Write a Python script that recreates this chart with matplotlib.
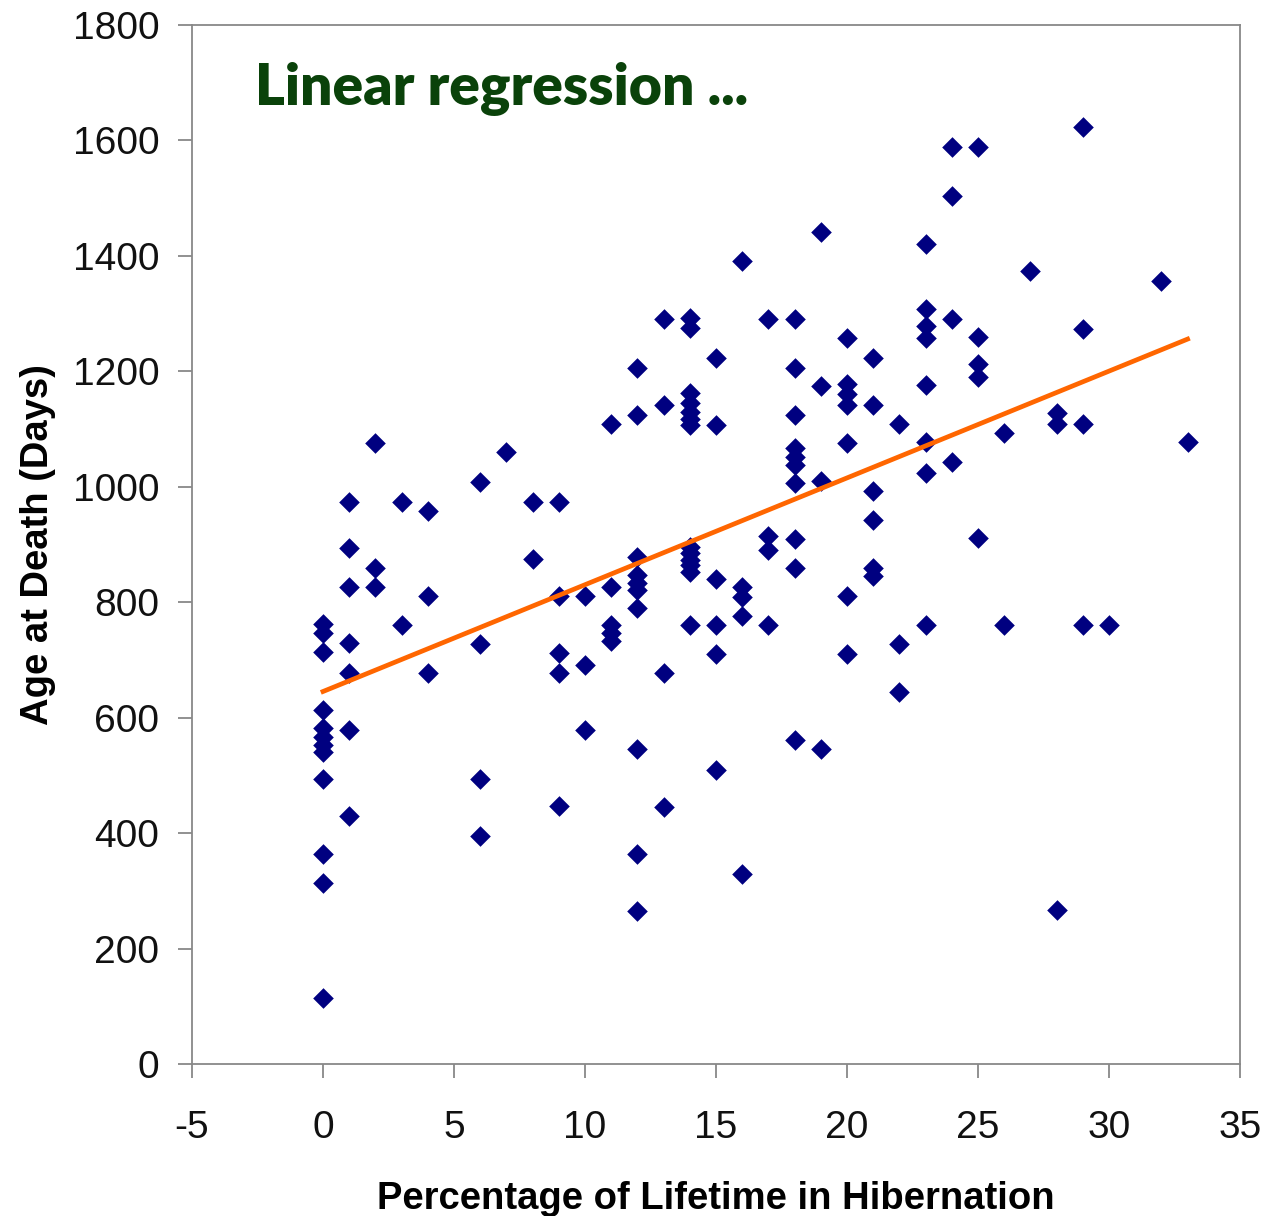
import matplotlib
matplotlib.use('Agg')
import matplotlib.pyplot as plt
import numpy as np

# hibernation share (%) and age at death (days), one entry per animal
pct = [0] * 12 + [1] * 7 + [2] * 3 + [3] * 2 + [4] * 3 + [6] * 4 + [7] + [8] * 2 \
    + [9] * 5 + [10] * 3 + [11] * 5 + [12] * 10 + [13] * 4 + [14] * 13 + [15] * 6 \
    + [16] * 5 + [17] * 4 + [18] * 10 + [19] * 4 + [20] * 7 + [21] * 6 + [22] * 3 \
    + [23] * 8 + [24] * 4 + [25] * 5 + [26] * 2 + [27] + [28] * 3 + [29] * 4 + [30] \
    + [32] + [33]

age = [762, 746, 714, 613, 582, 567, 553, 541, 494, 364, 313, 114,   # 0
       974, 894, 826, 729, 678, 579, 430,                              # 1
       1076, 860, 826,                                                 # 2
       974, 760,                                                       # 3
       958, 811, 677,                                                  # 4
       1009, 728, 494, 395,                                            # 6
       1060,                                                           # 7
       974, 875,                                                       # 8
       974, 811, 712, 677, 447,                                        # 9
       811, 692, 579,                                                  # 10
       1108, 827, 760, 746, 732,                                       # 11
       1206, 1124, 879, 847, 833, 821, 790, 546, 363, 265,             # 12
       1290, 1141, 677, 446,                                           # 13
       1292, 1275, 1162, 1145, 1130, 1118, 1107, 896, 885, 873, 865, 853, 760,  # 14
       1223, 1107, 841, 760, 711, 510,                                 # 15
       1391, 827, 809, 776, 330,                                       # 16
       1290, 914, 891, 760,                                            # 17
       1290, 1206, 1124, 1067, 1051, 1038, 1007, 909, 860, 562,        # 18
       1441, 1175, 1010, 546,                                          # 19
       1258, 1178, 1161, 1141, 1075, 811, 711,                         # 20
       1223, 1141, 993, 942, 860, 846,                                 # 21
       1109, 728, 645,                                                 # 22
       1421, 1308, 1279, 1257, 1177, 1078, 1024, 761,                  # 23
       1588, 1503, 1290, 1043,                                         # 24
       1588, 1259, 1212, 1191, 911,                                    # 25
       1093, 761,                                                      # 26
       1373,                                                           # 27
       1127, 1109, 266,                                                # 28
       1623, 1274, 1109, 761,                                          # 29
       761,                                                            # 30
       1357,                                                           # 32
       1077]                                                           # 33

xticks = list(range(-5, 36, 5))
yticks = list(range(0, 1801, 200))

pct = np.array(pct, dtype=float)
age = np.array(age, dtype=float)

# least squares fit, drawn across the observed range
slope, intercept = np.polyfit(pct, age, 1)
fit_x = np.array([pct.min(), pct.max()])
fit_y = intercept + slope * fit_x

fig = plt.figure(figsize=(12.67, 12.16), dpi=100)
ax = fig.add_axes([192 / 1267, 152 / 1216, 1048 / 1267, 1039 / 1216])

ax.scatter(pct, age, marker='D', s=10.5 ** 2, color='#000080', linewidths=0, zorder=3)
ax.plot(fit_x, fit_y, color='#ff6600', linewidth=3.4, zorder=4)

ax.set_xlim(-5, 35)
ax.set_ylim(0, 1800)
ax.set_xticks(xticks)
ax.set_yticks(yticks)

tick_font = {'family': 'Liberation Sans', 'size': 28}
ax.set_xticklabels([str(t) for t in xticks], fontdict=tick_font)
ax.set_yticklabels([str(t) for t in yticks], fontdict=tick_font)

for spine in ax.spines.values():
    spine.set_color('#888888')
    spine.set_linewidth(1.3)
ax.tick_params(axis='both', direction='out', length=10, width=1.3, color='#888888',
               labelcolor='#111111')
ax.tick_params(axis='x', pad=23)
ax.tick_params(axis='y', pad=13.5)

ax.set_xlabel('Percentage of Lifetime in Hibernation', family='Liberation Sans',
              weight='bold', size=27.5, labelpad=25)
ax.set_ylabel('Age at Death (Days)', family='Liberation Sans',
              weight='bold', size=27.5, labelpad=12)

ax.text(0.06, 0.923, 'Linear regression ...', transform=ax.transAxes,
        family='Lato', weight='heavy', size=41, color='#0a420a', va='baseline')

fig.savefig('out.png', dpi=100)
